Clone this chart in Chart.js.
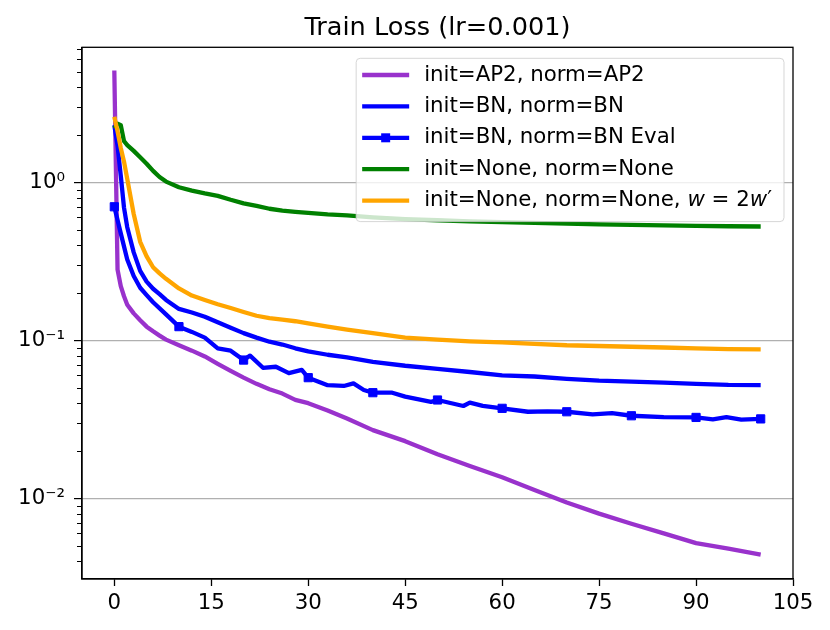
<!DOCTYPE html>
<html>
<head>
<meta charset="utf-8">
<script src="https://cdn.jsdelivr.net/npm/chart.js@4.4.0/dist/chart.umd.min.js"></script>
<style>
  html, body { margin: 0; padding: 0; background: #fff; }
  #wrap { width: 830px; height: 630px; }
</style>
</head>
<body>
<div id="wrap"><canvas id="lossChart"></canvas></div>
<script>
// epochs shared by the four smooth training curves
const epochs = [0, 0.5, 1, 1.5, 2, 3, 4, 5, 6, 7, 8, 10, 12, 14, 16, 18, 20, 22, 24, 26, 28, 30,
  33, 36, 40, 45, 50, 55, 60, 65, 70, 75, 80, 85, 90, 95, 100];

const lossAP2 = [5.1, 0.28, 0.22, 0.19, 0.168, 0.148, 0.134, 0.122, 0.114, 0.107, 0.101, 0.093,
  0.086, 0.079, 0.071, 0.064, 0.058, 0.053, 0.049, 0.046, 0.042, 0.040, 0.036, 0.032, 0.027,
  0.023, 0.019, 0.016, 0.0136, 0.0113, 0.0094, 0.0080, 0.0069, 0.0060, 0.0052, 0.0048, 0.0044];

const lossBN = [2.3, 1.7, 1.1, 0.69, 0.52, 0.36, 0.275, 0.235, 0.212, 0.196, 0.18, 0.158,
  0.150, 0.141, 0.130, 0.120, 0.111, 0.104, 0.098, 0.094, 0.089, 0.085, 0.081, 0.078, 0.073,
  0.069, 0.066, 0.063, 0.060, 0.059, 0.057, 0.0555, 0.0547, 0.054, 0.053, 0.0522, 0.0521];

const lossNone = [2.2, 2.35, 2.3, 1.82, 1.72, 1.58, 1.44, 1.31, 1.18, 1.08, 1.01, 0.93,
  0.885, 0.85, 0.82, 0.775, 0.736, 0.71, 0.68, 0.662, 0.65, 0.64, 0.626, 0.617, 0.60,
  0.585, 0.575, 0.565, 0.56, 0.553, 0.547, 0.542, 0.537, 0.533, 0.53, 0.527, 0.525];

const lossNone2w = [2.6, 2.1, 1.65, 1.35, 1.05, 0.63, 0.42, 0.34, 0.29, 0.265, 0.245, 0.213,
  0.192, 0.180, 0.169, 0.160, 0.151, 0.143, 0.138, 0.135, 0.132, 0.128, 0.122, 0.117, 0.111,
  0.104, 0.101, 0.0985, 0.097, 0.095, 0.093, 0.092, 0.091, 0.090, 0.089, 0.088, 0.0877];

// BN eval curve has its own (bumpy) sampling
const evalEpochs = [0, 1, 2, 3, 4, 5, 6, 8, 10, 12, 14, 16, 18, 20, 21, 23, 25, 27, 29, 30,
  33, 35.5, 37, 38.6, 40, 43, 45, 49, 50, 54, 55, 57, 60, 64, 67, 70, 74, 77, 80, 85, 90,
  92.6, 94.7, 97, 100];
const lossBNEval = [0.70, 0.475, 0.325, 0.255, 0.215, 0.193, 0.174, 0.146, 0.122, 0.113,
  0.104, 0.089, 0.086, 0.075, 0.080, 0.067, 0.068, 0.062, 0.065, 0.058,
  0.052, 0.0514, 0.0534, 0.0485, 0.0466, 0.0466, 0.044, 0.0408, 0.0419, 0.0384, 0.0403, 0.0385,
  0.0371, 0.0353, 0.0355, 0.0353, 0.034, 0.0346, 0.0333, 0.0326, 0.0325,
  0.0316, 0.0326, 0.0315, 0.0318];

const seriesLabels = ['init=AP2, norm=AP2', 'init=BN, norm=BN', 'init=BN, norm=BN Eval',
  'init=None, norm=None', 'init=None, norm=None, $w = 2w′$'];
const xTickValues = [0, 15, 30, 45, 60, 75, 90, 105];
const chartTitle = 'Train Loss (lr=0.001)';

const FONT = '"DejaVu Sans", "Liberation Sans", sans-serif';
const TICK_SIZE = 21.3;
Chart.defaults.color = '#000';
Chart.defaults.font.family = FONT;

function pts(xs, ys) {
  return xs.map((x, i) => ({x: x, y: ys[i]}));
}

const sup = {'0':'⁰','1':'¹','2':'²','3':'³','4':'⁴','5':'⁵','6':'⁶','7':'⁷','8':'⁸','9':'⁹','-':'⁻'};
function isPow10(v) {
  const e = Math.log10(v);
  return Math.abs(e - Math.round(e)) < 1e-9;
}

// draws a label; text between $..$ gets mathtext-like italics for letters
function drawLabel(ctx, text, x, y, size, measureOnly) {
  const parts = text.split('$');
  let cx = x;
  parts.forEach((p, k) => {
    if (k % 2 === 0) {
      ctx.font = size + 'px ' + FONT;
      if (!measureOnly) ctx.fillText(p, cx, y);
      cx += ctx.measureText(p).width;
    } else {
      for (const ch of p) {
        ctx.font = (/[a-z]/i.test(ch) ? 'italic ' : '') + size + 'px ' + FONT;
        if (!measureOnly) ctx.fillText(ch, cx, y);
        cx += ctx.measureText(ch).width;
      }
    }
  });
  return cx - x;
}

const frameAndLegend = {
  id: 'frameAndLegend',
  afterDraw(chart) {
    const ctx = chart.ctx, area = chart.chartArea;
    const yScale = chart.scales.y;
    ctx.save();
    // title centred over the axes
    ctx.fillStyle = '#000';
    ctx.font = '25.6px ' + FONT;
    ctx.textAlign = 'center';
    ctx.textBaseline = 'alphabetic';
    ctx.fillText(chartTitle, (area.left + area.right) / 2, area.top - 12);

    // minor ticks on the log axis (shorter than the major ones)
    ctx.strokeStyle = '#000';
    ctx.lineWidth = 1;
    yScale.ticks.forEach(t => {
      if (isPow10(t.value)) return;
      const py = Math.round(yScale.getPixelForValue(t.value)) + 0.5;
      ctx.beginPath();
      ctx.moveTo(area.left - 5, py);
      ctx.lineTo(area.left, py);
      ctx.stroke();
    });
    // spines
    ctx.lineWidth = 1.3;
    ctx.strokeRect(area.left, area.top, area.right - area.left, area.bottom - area.top);

    // legend box inside the axes, upper right
    const size = TICK_SIZE, rowH = 31.4;
    let maxW = 0;
    seriesLabels.forEach(l => { maxW = Math.max(maxW, drawLabel(ctx, l, 0, 0, size, true)); });
    const w = 69 + maxW + 11;
    const h = 16.7 + rowH * 4 + 21;
    const x0 = area.right - 9 - w, y0 = area.top + 11;
    ctx.beginPath();
    ctx.roundRect(x0, y0, w, h, 4);
    ctx.fillStyle = 'rgba(255,255,255,0.8)';
    ctx.fill();
    ctx.strokeStyle = 'rgba(204,204,204,0.8)';
    ctx.lineWidth = 1;
    ctx.stroke();

    chart.data.datasets.forEach((ds, i) => {
      const y = y0 + 16.7 + i * rowH;
      ctx.strokeStyle = ds.borderColor;
      ctx.lineWidth = ds.borderWidth;
      ctx.beginPath();
      ctx.moveTo(x0 + 6, y);
      ctx.lineTo(x0 + 53, y);
      ctx.stroke();
      if (ds.hasMarkers) {
        ctx.fillStyle = ds.borderColor;
        ctx.fillRect(x0 + 29.5 - 4.5, y - 4.5, 9, 9);
      }
      ctx.fillStyle = '#000';
      ctx.textBaseline = 'middle';
      ctx.textAlign = 'left';
      drawLabel(ctx, seriesLabels[i], x0 + 68, y, size, false);
    });
    ctx.restore();
  }
};

function makeSet(label, data, color, order) {
  return {
    label: label.replace(/\$/g, ''),
    data: data,
    borderColor: color,
    backgroundColor: color,
    borderWidth: 4.3,
    borderJoinStyle: 'round',
    pointRadius: 0,
    tension: 0,
    order: order
  };
}

const evalSet = makeSet(seriesLabels[2], pts(evalEpochs, lossBNEval), '#0000ff', 2);
evalSet.hasMarkers = true;
evalSet.pointStyle = 'rect';
evalSet.pointRadius = ctx => (evalEpochs[ctx.dataIndex] % 10 === 0 ? 5.8 : 0);
evalSet.pointBorderWidth = 1;

new Chart(document.getElementById('lossChart'), {
  type: 'line',
  data: {
    datasets: [
      makeSet(seriesLabels[0], pts(epochs, lossAP2), '#9932cc', 4),
      makeSet(seriesLabels[1], pts(epochs, lossBN), '#0000ff', 3),
      evalSet,
      makeSet(seriesLabels[3], pts(epochs, lossNone), '#008000', 1),
      makeSet(seriesLabels[4], pts(epochs, lossNone2w), '#ffa500', 0)
    ]
  },
  options: {
    responsive: true,
    maintainAspectRatio: false,
    animation: false,
    layout: { padding: { left: 0, right: 37, top: 47.3, bottom: 0 } },
    plugins: {
      legend: { display: false },
      tooltip: { enabled: false },
      title: { display: false }
    },
    scales: {
      x: {
        type: 'linear',
        min: -5,
        max: 105,
        afterBuildTicks: scale => { scale.ticks = xTickValues.map(v => ({value: v})); },
        afterFit: scale => { scale.height = 51; },
        grid: { drawOnChartArea: false, tickLength: 7, tickColor: '#000', tickWidth: 1.3 },
        border: { color: '#000', width: 1.3 },
        ticks: { autoSkip: false, maxRotation: 0, padding: 5, font: { size: TICK_SIZE } }
      },
      y: {
        type: 'logarithmic',
        min: 0.003085,
        max: 7.15,
        afterBuildTicks: scale => {
          const t = [];
          for (let e = -3; e <= 0; e++) {
            for (let m = 1; m <= 9; m++) {
              const v = m * Math.pow(10, e);
              if (v >= scale.min && v <= scale.max) t.push({value: v, major: m === 1});
            }
          }
          scale.ticks = t;
        },
        afterFit: scale => { scale.width = 82; },
        grid: {
          color: ctx => (ctx.tick && isPow10(ctx.tick.value) ? '#b0b0b0' : 'rgba(0,0,0,0)'),
          lineWidth: 1.2,
          tickLength: 8,
          tickColor: ctx => (ctx.tick && isPow10(ctx.tick.value) ? '#000' : 'rgba(0,0,0,0)'),
          tickWidth: 1.2
        },
        border: { color: '#000', width: 1.3 },
        ticks: {
          autoSkip: false,
          padding: 9,
          font: { size: TICK_SIZE },
          callback: v => {
            if (!isPow10(v)) return '';
            const e = String(Math.round(Math.log10(v)));
            return '10' + e.split('').map(c => sup[c]).join('');
          }
        }
      }
    }
  },
  plugins: [frameAndLegend]
});
</script>
</body>
</html>
